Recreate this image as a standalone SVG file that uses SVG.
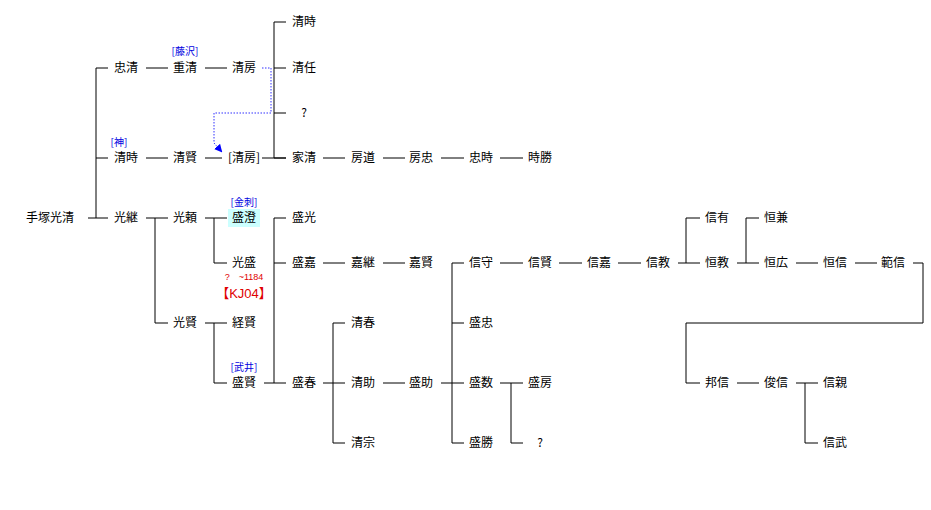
<svg xmlns="http://www.w3.org/2000/svg" width="931" height="510" viewBox="0 0 931 510">
<style>
.n{font-family:"Noto Sans CJK JP","Noto Sans CJK SC",sans-serif;font-size:12px;text-anchor:middle;fill:#000}
.b{font-family:"Noto Sans CJK JP",sans-serif;font-size:10px;text-anchor:middle;fill:#0000e0}
.r{font-family:"Liberation Sans","Noto Sans CJK JP",sans-serif;text-anchor:middle;fill:#e00000}
#c path{stroke:#000;stroke-width:1;fill:none}
</style>
<defs><marker id="a" markerWidth="8" markerHeight="8" refX="6" refY="4" orient="auto" markerUnits="userSpaceOnUse"><path d="M0,0 L8,4 L0,8 Z" fill="#0000ff"/></marker></defs>
<rect width="931" height="510" fill="#fff"/>
<rect x="228" y="209" width="32" height="18" fill="#ccffff"/>
<g id="c">
<path d="M88,218H108M96,68V218M96,68H108M96,158H108"/>
<path d="M146,68H168M205,68H227M274,22V158M274,22H286M274,68H286M274,113H286M274,158H286M262,158H286"/>
<path d="M146,158H168M205,158H222M323,158H345M383,158H405M441,158H464M500,158H523"/>
<path d="M146,218H168M155,218V323M155,323H168M205,218H227M214,218V263M214,263H227"/>
<path d="M274,218V383M274,218H286M274,263H286M264,383H286M205,323H227M214,323V383M214,383H227"/>
<path d="M323,263H345M383,263H405M323,383H345M333,323V443M333,323H345M333,443H345M383,383H405"/>
<path d="M441,383H464M452,263V443M452,263H464M452,323H464M452,443H464M500,383H523M511,383V443M511,443H523"/>
<path d="M500,263H523M559,263H582M618,263H641M678,263H700M686,218V263M686,218H700M737,263H759M746,218V263M746,218H759M796,263H818M855,263H877"/>
<path d="M913,263H923V323H686V383H700M737,383H759M796,383H818M805,383V443H818"/>
<path d="M262,68H271V113H214V143L221,151" style="stroke:#3030ff;stroke-dasharray:1.5 1.5" marker-end="url(#a)"/>
</g>
<g id="n0"><text class="n" x="50" y="222">手塚光清</text></g>
<g id="n1"><text class="n" x="126" y="72">忠清</text></g>
<g id="n2"><text class="b" x="185" y="55">[藤沢]</text><text class="n" x="185" y="72">重清</text></g>
<g id="n3"><text class="n" x="244" y="72">清房</text></g>
<g id="n4"><text class="n" x="304" y="26">清時</text></g>
<g id="n5"><text class="n" x="304" y="72">清任</text></g>
<g id="n6"><text class="n" x="304" y="117">?</text></g>
<g id="n7"><text class="b" x="119" y="146">[神]</text><text class="n" x="126" y="162">清時</text></g>
<g id="n8"><text class="n" x="185" y="162">清賢</text></g>
<g id="n9"><text class="n" x="244" y="162">[清房]</text></g>
<g id="n10"><text class="n" x="304" y="162">家清</text></g>
<g id="n11"><text class="n" x="363" y="162">房道</text></g>
<g id="n12"><text class="n" x="421" y="162">房忠</text></g>
<g id="n13"><text class="n" x="481" y="162">忠時</text></g>
<g id="n14"><text class="n" x="540" y="162">時勝</text></g>
<g id="n15"><text class="n" x="126" y="222">光継</text></g>
<g id="n16"><text class="n" x="185" y="222">光頼</text></g>
<g id="n17"><text class="b" x="244" y="206">[金刺]</text><text class="n" x="244" y="222">盛澄</text></g>
<g id="n18"><text class="n" x="244" y="267">光盛</text><text class="r" x="244" y="280" font-size="9">?　~1184</text><text class="r" x="244" y="298" font-size="13">【KJ04】</text></g>
<g id="n19"><text class="n" x="185" y="327">光賢</text></g>
<g id="n20"><text class="n" x="244" y="327">経賢</text></g>
<g id="n21"><text class="b" x="244" y="371">[武井]</text><text class="n" x="244" y="387">盛賢</text></g>
<g id="n22"><text class="n" x="304" y="222">盛光</text></g>
<g id="n23"><text class="n" x="304" y="267">盛嘉</text></g>
<g id="n24"><text class="n" x="363" y="267">嘉継</text></g>
<g id="n25"><text class="n" x="421" y="267">嘉賢</text></g>
<g id="n26"><text class="n" x="304" y="387">盛春</text></g>
<g id="n27"><text class="n" x="363" y="327">清春</text></g>
<g id="n28"><text class="n" x="363" y="387">清助</text></g>
<g id="n29"><text class="n" x="363" y="447">清宗</text></g>
<g id="n30"><text class="n" x="421" y="387">盛助</text></g>
<g id="n31"><text class="n" x="481" y="267">信守</text></g>
<g id="n32"><text class="n" x="481" y="327">盛忠</text></g>
<g id="n33"><text class="n" x="481" y="387">盛数</text></g>
<g id="n34"><text class="n" x="481" y="447">盛勝</text></g>
<g id="n35"><text class="n" x="540" y="387">盛房</text></g>
<g id="n36"><text class="n" x="540" y="447">?</text></g>
<g id="n37"><text class="n" x="540" y="267">信賢</text></g>
<g id="n38"><text class="n" x="599" y="267">信嘉</text></g>
<g id="n39"><text class="n" x="658" y="267">信教</text></g>
<g id="n40"><text class="n" x="717" y="222">信有</text></g>
<g id="n41"><text class="n" x="717" y="267">恒教</text></g>
<g id="n42"><text class="n" x="776" y="222">恒兼</text></g>
<g id="n43"><text class="n" x="776" y="267">恒広</text></g>
<g id="n44"><text class="n" x="835" y="267">恒信</text></g>
<g id="n45"><text class="n" x="893" y="267">範信</text></g>
<g id="n46"><text class="n" x="717" y="387">邦信</text></g>
<g id="n47"><text class="n" x="776" y="387">俊信</text></g>
<g id="n48"><text class="n" x="835" y="387">信親</text></g>
<g id="n49"><text class="n" x="835" y="447">信武</text></g>
</svg>
